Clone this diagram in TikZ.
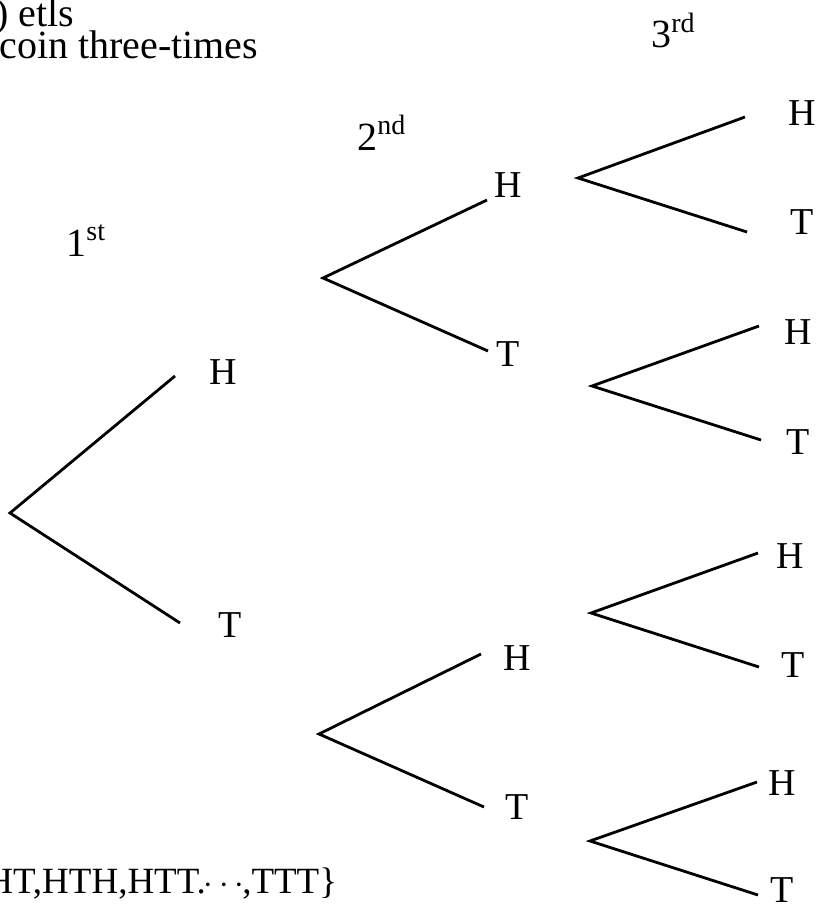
\documentclass[tikz,border=0pt]{standalone}
\usepackage{fontspec}
\setmainfont{Liberation Serif}

\begin{document}
\begin{tikzpicture}[x=0.5pt, y=-0.5pt,
    lbl/.style={font=\fontsize{19}{22}\selectfont, inner sep=0pt},
    txt/.style={font=\fontsize{20}{23}\selectfont, inner sep=0pt, anchor=base west},
    branch/.style={line width=1.4pt, line join=miter}
  ]
  \useasboundingbox (0,0) rectangle (817,904);

  \node[txt] (title) at (-5,27) {) etls};
  \node[txt] (task) at (-1,59) {coin three-times};
  \node[txt, font=\fontsize{18.5}{22}\selectfont] (space) at (-14,893)
    {HT,HTH,HTT.\kern-1pt$\cdots$\kern-1pt,TTT\}};

  \node[txt] (first) at (66,256) {1\textsuperscript{st}};
  \node[txt] (second) at (357,150) {2\textsuperscript{nd}};
  \node[txt] (third) at (651,48) {3\textsuperscript{rd}};

  % first toss
  \coordinate (r1) at (10,513);
  \coordinate (e1H) at (175,376);
  \coordinate (e1T) at (180,623);
  \node[lbl] (h1) at (223,372) {H};
  \node[lbl] (t1) at (230,625) {T};
  \draw[branch] (e1H) -- (r1) -- (e1T);

  % second toss
  \coordinate (r2a) at (323,278);
  \coordinate (e2aH) at (487,200);
  \coordinate (e2aT) at (488,351);
  \node[lbl] (h2a) at (508,185) {H};
  \node[lbl] (t2a) at (508,354) {T};
  \draw[branch] (e2aH) -- (r2a) -- (e2aT);

  \coordinate (r2b) at (319,734);
  \coordinate (e2bH) at (481,654);
  \coordinate (e2bT) at (484,807);
  \node[lbl] (h2b) at (517,658) {H};
  \node[lbl] (t2b) at (517,807) {T};
  \draw[branch] (e2bH) -- (r2b) -- (e2bT);

  % third toss
  \coordinate (r3a) at (578,178);
  \coordinate (e3aH) at (745,117);
  \coordinate (e3aT) at (747,232);
  \node[lbl] (h3a) at (802,113) {H};
  \node[lbl] (t3a) at (802,222) {T};
  \draw[branch] (e3aH) -- (r3a) -- (e3aT);

  \coordinate (r3b) at (592,386);
  \coordinate (e3bH) at (759,326);
  \coordinate (e3bT) at (761,440);
  \node[lbl] (h3b) at (798,332) {H};
  \node[lbl] (t3b) at (798,442) {T};
  \draw[branch] (e3bH) -- (r3b) -- (e3bT);

  \coordinate (r3c) at (591,613);
  \coordinate (e3cH) at (758,553);
  \coordinate (e3cT) at (759,667);
  \node[lbl] (h3c) at (790,556) {H};
  \node[lbl] (t3c) at (793,665) {T};
  \draw[branch] (e3cH) -- (r3c) -- (e3cT);

  \coordinate (r3d) at (590,841);
  \coordinate (e3dH) at (757,782);
  \coordinate (e3dT) at (758,895);
  \node[lbl] (h3d) at (782,783) {H};
  \node[lbl] (t3d) at (782,890) {T};
  \draw[branch] (e3dH) -- (r3d) -- (e3dT);
\end{tikzpicture}
\end{document}
